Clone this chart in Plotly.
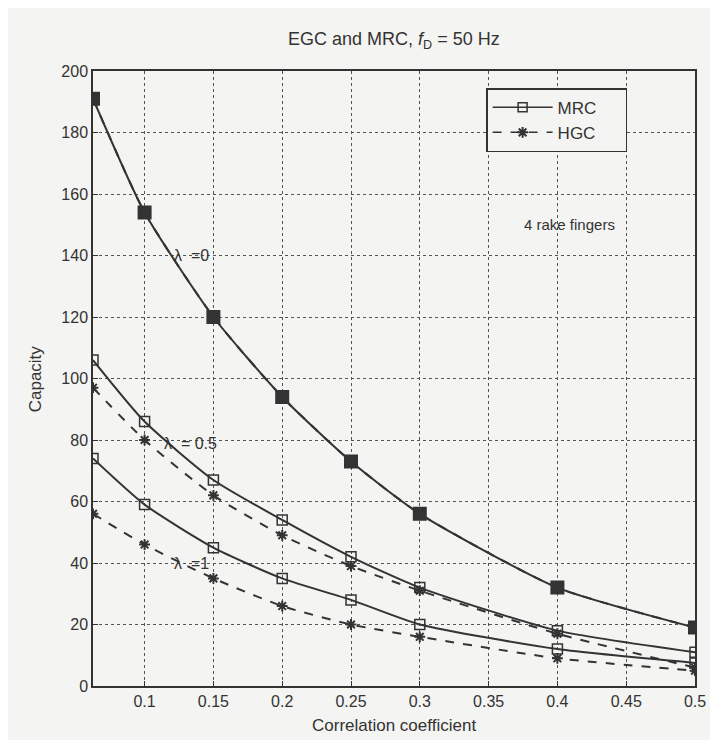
import plotly.graph_objects as go

rho = [0.0625, 0.1, 0.15, 0.2, 0.25, 0.3, 0.4, 0.5]
mrc_l0 = [191, 154, 120, 94, 73, 56, 32, 19]
hgc_l0 = [191, 154, 120, 94, 73, 56, 32, 19]
mrc_l05 = [106, 86, 67, 54, 42, 32, 18, 11]
hgc_l05 = [97, 80, 62, 49, 39, 31, 17, 6]
mrc_l1 = [74, 59, 45, 35, 28, 20, 12, 7.5]
hgc_l1 = [56, 46, 35, 26, 20, 16, 9, 5]

x_ticks = [0.1, 0.15, 0.2, 0.25, 0.3, 0.35, 0.4, 0.45, 0.5]
y_ticks = [0, 20, 40, 60, 80, 100, 120, 140, 160, 180, 200]

INK = "#333333"
BG = "#f4f4f2"
FONT = "Liberation Sans, Arial, sans-serif"

fig = go.Figure()

def add_series(y, dash, symbol, size):
    fig.add_trace(go.Scatter(
        x=rho, y=y, mode="lines+markers", showlegend=False,
        line=dict(color=INK, width=2, dash=dash, shape="spline", smoothing=0.6),
        marker=dict(symbol=symbol, size=size, color=INK,
                    line=dict(color=INK, width=1.5 if symbol == "square-open" else 2)),
    ))

add_series(hgc_l0, "dash", "asterisk-open", 9)
add_series(mrc_l0, "solid", "square", 12)
add_series(mrc_l05, "solid", "square-open", 10)
add_series(hgc_l05, "dash", "asterisk-open", 9)
add_series(mrc_l1, "solid", "square-open", 10)
add_series(hgc_l1, "dash", "asterisk-open", 9)

# legend entries
fig.add_trace(go.Scatter(x=[None], y=[None], mode="lines+markers", name="MRC     ",
                         line=dict(color=INK, width=1.5),
                         marker=dict(symbol="square-open", size=9, color=INK, line=dict(color=INK, width=1.5))))
fig.add_trace(go.Scatter(x=[None], y=[None], mode="lines+markers", name="HGC     ",
                         line=dict(color=INK, width=1.5, dash="dash"),
                         marker=dict(symbol="asterisk-open", size=9, color=INK, line=dict(color=INK, width=2))))

annots = [
    dict(x=0.134, y=140, text="λ  =0", size=16),
    dict(x=0.133, y=79, text="λ  = 0.5", size=16),
    dict(x=0.134, y=40, text="λ  =1", size=16),
    dict(x=0.374, y=150, text="4 rake fingers", size=15, xanchor="left"),
]
for a in annots:
    fig.add_annotation(x=a["x"], y=a["y"], text=a["text"], showarrow=False,
                       xanchor=a.get("xanchor", "center"), yanchor="middle",
                       font=dict(family=FONT, size=a["size"], color=INK), bgcolor="rgba(0,0,0,0)")

# axis titles and title
fig.add_annotation(xref="paper", yref="paper", x=0.5, y=-0.064, yanchor="middle",
                   text="Correlation coefficient", showarrow=False,
                   font=dict(family=FONT, size=17, color=INK))
fig.add_annotation(xref="paper", yref="paper", x=-0.095, y=0.5, textangle=-90,
                   text="Capacity", showarrow=False, xanchor="center",
                   font=dict(family=FONT, size=17, color=INK))
fig.add_annotation(xref="paper", yref="paper", x=0.5, y=1.050, yanchor="middle",
                   text="EGC and MRC, <i>f</i><sub>D</sub> = 50 Hz", showarrow=False,
                   font=dict(family=FONT, size=18, color=INK))

axis_common = dict(showline=True, linecolor=INK, linewidth=1.5, mirror=True,
                   showgrid=True, gridcolor="#555555", griddash="dot", gridwidth=1,
                   ticks="inside", ticklen=5, tickcolor=INK, zeroline=False,
                   tickfont=dict(family=FONT, size=16, color=INK))

fig.update_xaxes(range=[0.0625, 0.5], tickvals=x_ticks,
                 ticktext=[str(t) for t in x_ticks], **axis_common)
fig.update_yaxes(range=[0, 200], tickvals=y_ticks,
                 ticktext=[str(t) for t in y_ticks], **axis_common)

fig.update_layout(
    width=710, height=732,
    margin=dict(l=85, r=20, t=63, b=54),
    paper_bgcolor=BG, plot_bgcolor=BG,
    font=dict(family=FONT, size=16, color=INK),
    legend=dict(x=0.653, y=0.972, xanchor="left", yanchor="top",
                bgcolor=BG, bordercolor=INK, borderwidth=1.5,
                font=dict(family=FONT, size=17, color=INK),
                itemwidth=60, tracegroupgap=0),
)

fig.write_html("out.html")
